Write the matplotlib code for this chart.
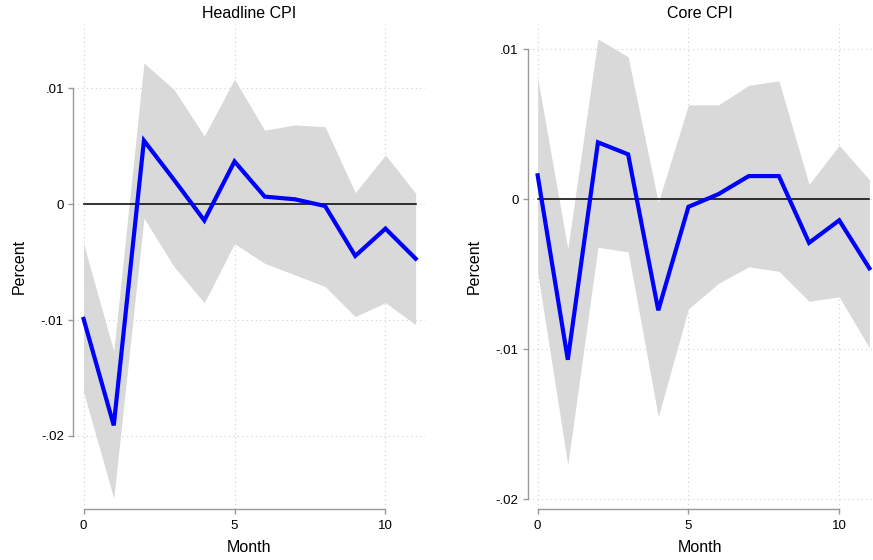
import matplotlib
matplotlib.use("Agg")
import matplotlib.pyplot as plt
import numpy as np

plt.rcParams['font.family'] = ['Liberation Sans', 'DejaVu Sans']

months = list(range(12))

# Headline CPI impulse response with confidence band
headline_irf = [-0.0099, -0.0191, 0.0055, 0.0021, -0.0014, 0.0037,
                0.00066, 0.00043, -0.00015, -0.00446, -0.0021, -0.0047]
headline_upper = [-0.0034, -0.0127, 0.0122, 0.0099, 0.0059, 0.0108,
                  0.0064, 0.00685, 0.0067, 0.0010, 0.00426, 0.00095]
headline_lower = [-0.0162, -0.0254, -0.0012, -0.0054, -0.0085, -0.0034,
                  -0.0051, -0.0061, -0.0071, -0.0097, -0.0085, -0.0104]

# Core CPI impulse response with confidence band
core_irf = [0.0016, -0.0107, 0.0038, 0.0030, -0.0074, -0.0005,
            0.00035, 0.00155, 0.00155, -0.0029, -0.0014, -0.0046]
core_upper = [0.0081, -0.0033, 0.0107, 0.0095, -0.0002, 0.0063,
              0.0063, 0.0076, 0.0079, 0.0010, 0.0036, 0.0013]
core_lower = [-0.0049, -0.0177, -0.0032, -0.0035, -0.0145, -0.0073,
              -0.0056, -0.0045, -0.0048, -0.0068, -0.0065, -0.0099]

x_ticks = [0, 5, 10]
headline_yticks = [-0.02, -0.01, 0, 0.01]
headline_ylabels = ["-.02", "-.01", "0", ".01"]
core_yticks = [-0.02, -0.01, 0, 0.01]
core_ylabels = ["-.02", "-.01", "0", ".01"]

fig = plt.figure(figsize=(8.73, 5.6), dpi=100)

W, H = 873.0, 560.0

def make_axes(left, right, top, bottom):
    return fig.add_axes([left / W, 1 - bottom / H, (right - left) / W, (bottom - top) / H])

ax1 = make_axes(73, 425, 24, 509)
ax2 = make_axes(527.7, 873, 24, 509)

panels = [
    (ax1, "Headline CPI", headline_irf, headline_upper, headline_lower,
     headline_yticks, headline_ylabels, (-0.35, 11.31), (-0.02632, 0.01557)),
    (ax2, "Core CPI", core_irf, core_upper, core_lower,
     core_yticks, core_ylabels, (-0.33, 11.12), (-0.02065, 0.01169)),
]

axis_gray = "#9a9a9a"
for ax, title, irf, up, lo, yt, yl, xlim, ylim in panels:
    ax.set_axisbelow(True)
    ax.fill_between(months, lo, up, color="#d9d9d9", linewidth=0, zorder=1)
    ax.plot(months, np.zeros(len(months)), color="black", linewidth=1.1, zorder=2)
    ax.plot(months, irf, color="#0000ff", linewidth=3.0, zorder=3,
            solid_joinstyle="miter")
    ax.set_xlim(*xlim)
    ax.set_ylim(*ylim)
    ax.set_xticks(x_ticks)
    ax.set_xticklabels([str(t) for t in x_ticks])
    ax.set_yticks(yt)
    ax.set_yticklabels(yl)
    ax.grid(True, color="#d0d0d0", linestyle=(0, (1, 3)), linewidth=0.8)
    for s in ("top", "right"):
        ax.spines[s].set_visible(False)
    ax.spines["left"].set_color(axis_gray)
    ax.spines["bottom"].set_color(axis_gray)
    ax.spines["left"].set_linewidth(1.0)
    ax.spines["bottom"].set_linewidth(1.0)
    ax.spines["left"].set_bounds(min(yt), max(yt))
    ax.spines["bottom"].set_bounds(min(x_ticks), max(x_ticks))
    ax.tick_params(axis="both", color=axis_gray, length=3.6, width=1.0,
                   labelsize=9.5, labelcolor="black", pad=3)
    ax.tick_params(axis="x", pad=4.5)
    ax.set_title(title, fontsize=11.5, pad=4.5)
    ax.set_xlabel("Month", fontsize=11.5, labelpad=5.5)
    ax.set_ylabel("Percent", fontsize=11.5, labelpad=10)

fig.savefig("out.png", dpi=100)
